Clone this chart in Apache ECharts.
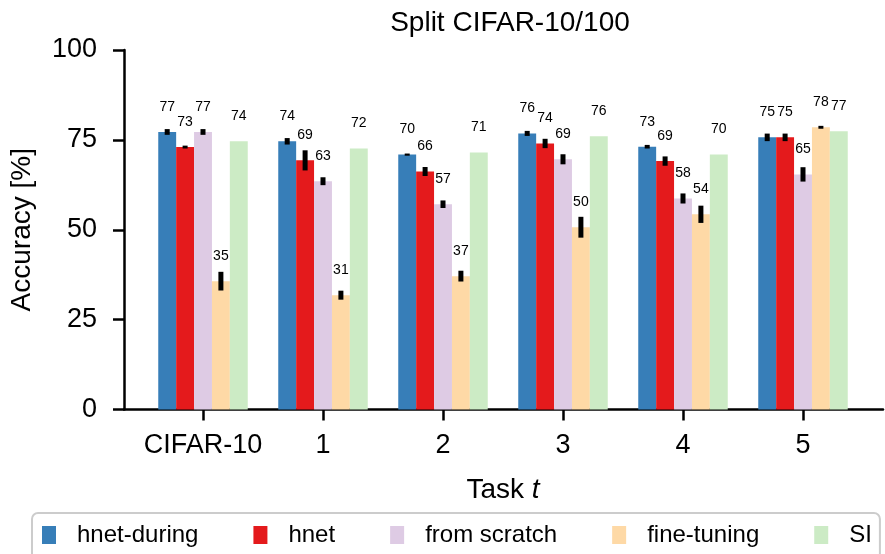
<!DOCTYPE html>
<html>
<head>
<meta charset="utf-8">
<script src="https://cdn.jsdelivr.net/npm/echarts@6/dist/echarts.min.js"></script>
<style>
html,body{margin:0;padding:0;background:#fff;}
#chart{width:885px;height:554px;}
</style>
</head>
<body>
<div id="chart"></div>
<script>
// ---- data ----
const categories = ['CIFAR-10', '1', '2', '3', '4', '5'];
const seriesNames = ['hnet-during', 'hnet', 'from scratch', 'fine-tuning', 'SI'];
const hnetDuring = [77.2, 74.6, 70.9, 76.8, 73.1, 75.7];
const hnet = [73.0, 69.3, 66.2, 74.0, 69.1, 75.7];
const fromScratch = [77.2, 63.5, 57.1, 69.6, 58.7, 65.4];
const fineTuning = [35.7, 31.8, 37.1, 50.7, 54.3, 78.5];
const si = [74.6, 72.6, 71.5, 76.0, 70.9, 77.4];
const hnetDuringStd = [0.8, 0.9, 0.3, 0.7, 0.5, 1.05];
const hnetStd = [0.4, 2.8, 1.25, 1.3, 1.3, 1.05];
const fromScratchStd = [0.8, 1.1, 1.05, 1.4, 1.4, 2.0];
const fineTuningStd = [2.6, 1.25, 1.5, 2.9, 2.4, 0.4];
const siStd = [0, 0, 0, 0, 0, 0];

const colors = ['#377eb8', '#e41a1c', '#decbe4', '#fed9a6', '#ccebc5'];
const means = [hnetDuring, hnet, fromScratch, fineTuning, si];
const stds = [hnetDuringStd, hnetStd, fromScratchStd, fineTuningStd, siStd];

const BAR_W = 17.9;
const FONT = '"Liberation Sans", Arial, Helvetica, sans-serif';

const chart = echarts.init(document.getElementById('chart'), null, {renderer: 'canvas'});

const barSeries = seriesNames.map((name, i) => ({
  name: name,
  type: 'bar',
  xAxisIndex: 1,
  yAxisIndex: 1,
  barWidth: BAR_W,
  barGap: '0%',
  itemStyle: {color: colors[i]},
  data: means[i],
  label: {
    show: true,
    position: 'top',
    distance: 18,
    fontSize: 14,
    color: '#000',
    fontFamily: FONT,
    formatter: p => String(Math.floor(p.value))
  },
  z: 2
}));

const errSeries = seriesNames.map((name, i) => ({
  name: name + ' err',
  type: 'custom',
  xAxisIndex: 1,
  yAxisIndex: 1,
  silent: true,
  z: 5,
  data: categories.map((c, k) => [k, means[i][k], stds[i][k]]),
  renderItem: function (params, api) {
    const k = api.value(0), m = api.value(1), s = api.value(2);
    if (!s) return null;
    const top = api.coord([k, m + s]);
    const bot = api.coord([k, m - s]);
    const off = (i - 2) * BAR_W;
    const h = Math.max(bot[1] - top[1], 2);
    return {
      type: 'rect',
      shape: {x: top[0] + off - 2.5, y: top[1], width: 5, height: h},
      style: {fill: '#000'}
    };
  }
}));

const option = {
  animation: false,
  backgroundColor: '#fff',
  textStyle: {fontFamily: FONT},
  title: {
    text: 'Split CIFAR-10/100',
    left: 505,
    textAlign: 'center',
    top: 4,
    textStyle: {fontSize: 28, fontWeight: 'normal', color: '#000', fontFamily: FONT}
  },
  legend: {
    data: seriesNames,
    left: 32,
    top: 513,
    width: 860,
    orient: 'horizontal',
    padding: [10, 8, 30, 10],
    borderColor: '#cccccc',
    borderWidth: 2,
    borderRadius: 6,
    backgroundColor: '#fff',
    itemWidth: 14,
    itemHeight: 18,
    itemGap: 55,
    icon: 'rect',
    textStyle: {fontSize: 24, color: '#000', fontFamily: FONT, padding: [0, 0, 0, 16]}
  },
  grid: [
    {left: 124, right: 2, top: 50, bottom: 144.5},
    {left: 143, right: 22, top: 50, bottom: 144.5}
  ],
  xAxis: [
    {
      type: 'value', gridIndex: 0, min: 0, max: 1,
      axisLine: {show: true, onZero: false, lineStyle: {color: '#000', width: 2.5}},
      axisTick: {show: false}, axisLabel: {show: false}, splitLine: {show: false}
    },
    {
      type: 'category', gridIndex: 1, data: categories,
      axisLine: {show: false},
      axisTick: {show: true, alignWithLabel: true, interval: 0, length: 11, lineStyle: {color: '#000', width: 2.5}},
      axisLabel: {fontSize: 27, color: '#000', margin: 23, interval: 0, fontFamily: FONT},
      name: 'Task {i|t}',
      nameLocation: 'middle',
      nameGap: 67,
      nameTextStyle: {
        fontSize: 28, color: '#000', fontFamily: FONT,
        rich: {i: {fontSize: 28, fontStyle: 'italic', color: '#000', fontFamily: FONT}}
      }
    }
  ],
  yAxis: [
    {
      type: 'value', gridIndex: 0, min: 0, max: 100, interval: 25,
      axisLine: {show: true, lineStyle: {color: '#000', width: 2.5}},
      axisTick: {show: true, length: 11, lineStyle: {color: '#000', width: 2.5}},
      axisLabel: {fontSize: 27, color: '#000', margin: 27, fontFamily: FONT},
      splitLine: {show: false},
      name: 'Accuracy [%]',
      nameLocation: 'middle',
      nameGap: 88,
      nameTextStyle: {fontSize: 28, color: '#000', fontFamily: FONT}
    },
    {
      type: 'value', gridIndex: 1, min: 0, max: 100, interval: 25, show: false
    }
  ],
  series: barSeries.concat(errSeries)
};
chart.setOption(option);
</script>
</body>
</html>
